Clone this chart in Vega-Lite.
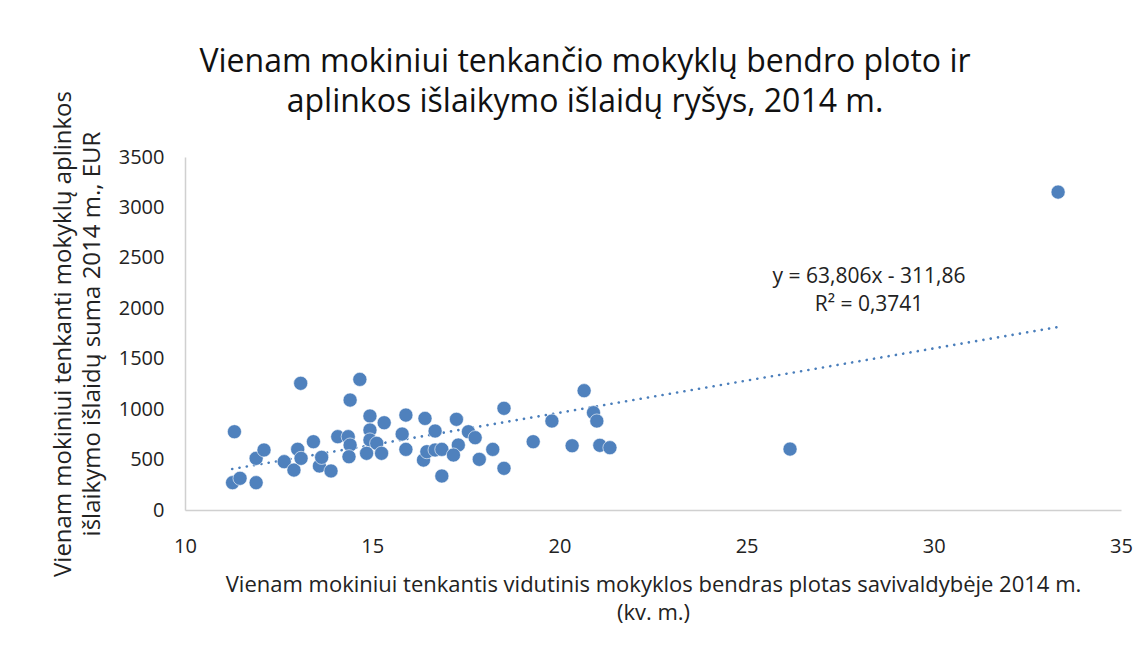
{
  "$schema": "https://vega.github.io/schema/vega-lite/v6.json",
  "width": 936,
  "height": 353,
  "autosize": "none",
  "padding": {"left": 185, "top": 157, "right": 26, "bottom": 145},
  "background": "white",
  "config": {
    "font": "Open Sans",
    "view": {"stroke": null},
    "axis": {"grid": false, "ticks": false, "domainColor": "#d0d0d0", "domainWidth": 1.5, "labelColor": "#222", "titleColor": "#222", "labelFont": "Open Sans", "titleFont": "Open Sans", "titleFontWeight": "normal", "labelFlush": false}
  },
  "title": {
    "text": ["Vienam mokiniui tenkančio mokyklų bendro ploto ir", "aplinkos išlaikymo išlaidų ryšys, 2014 m."],
    "fontSize": 32,
    "fontWeight": "normal",
    "font": "Open Sans",
    "color": "#111",
    "anchor": "middle",
    "frame": "group",
    "dx": -68,
    "offset": -28,
    "lineHeight": 40
  },
  "datasets": {
    "points": [
      {"x": 11.32, "y": 776}, {"x": 13.09, "y": 1256}, {"x": 14.67, "y": 1295}, {"x": 14.41, "y": 1090},
      {"x": 11.27, "y": 271}, {"x": 11.47, "y": 314}, {"x": 11.90, "y": 271}, {"x": 11.90, "y": 512},
      {"x": 12.11, "y": 595}, {"x": 12.65, "y": 479}, {"x": 12.91, "y": 396}, {"x": 13.01, "y": 602},
      {"x": 13.10, "y": 512}, {"x": 13.43, "y": 677}, {"x": 13.59, "y": 436}, {"x": 13.65, "y": 522},
      {"x": 13.90, "y": 387}, {"x": 14.08, "y": 727}, {"x": 14.36, "y": 727}, {"x": 14.41, "y": 644},
      {"x": 14.38, "y": 528}, {"x": 14.94, "y": 932}, {"x": 15.32, "y": 865}, {"x": 14.94, "y": 793},
      {"x": 14.94, "y": 694}, {"x": 15.12, "y": 661}, {"x": 14.85, "y": 562}, {"x": 15.25, "y": 562},
      {"x": 15.90, "y": 941}, {"x": 15.80, "y": 753}, {"x": 15.90, "y": 601}, {"x": 16.41, "y": 908},
      {"x": 16.37, "y": 495}, {"x": 16.68, "y": 783}, {"x": 16.46, "y": 578}, {"x": 16.68, "y": 595},
      {"x": 16.86, "y": 601}, {"x": 16.86, "y": 337}, {"x": 17.25, "y": 899}, {"x": 17.30, "y": 644},
      {"x": 17.17, "y": 545}, {"x": 17.57, "y": 776}, {"x": 17.75, "y": 717}, {"x": 17.86, "y": 502},
      {"x": 18.22, "y": 601}, {"x": 18.52, "y": 1008}, {"x": 18.52, "y": 413}, {"x": 19.30, "y": 677},
      {"x": 19.80, "y": 882}, {"x": 20.34, "y": 637}, {"x": 20.66, "y": 1183}, {"x": 20.91, "y": 965},
      {"x": 21.00, "y": 882}, {"x": 21.08, "y": 641}, {"x": 21.35, "y": 618}, {"x": 26.16, "y": 604},
      {"x": 33.32, "y": 3152}
    ],
    "trend": [
      {"x": 11.26, "y": 406.6},
      {"x": 33.32, "y": 1814.1}
    ],
    "equation": [
      {"label": "y = 63,806x - 311,86"}
    ]
  },
  "layer": [
    {
      "data": {"name": "trend"},
      "mark": {"type": "line", "color": "#4A7EBB", "strokeWidth": 2.6, "strokeCap": "round", "strokeDash": [0.1, 7.3]},
      "encoding": {
        "x": {"field": "x", "type": "quantitative"},
        "y": {"field": "y", "type": "quantitative"}
      }
    },
    {
      "data": {"name": "points"},
      "mark": {"type": "point", "shape": "circle", "filled": true, "size": 200, "color": "#4F81BD", "opacity": 1, "stroke": "white", "strokeWidth": 0.6},
      "encoding": {
        "x": {
          "field": "x", "type": "quantitative",
          "scale": {"domain": [10, 35], "nice": false, "zero": false},
          "axis": {
            "values": [10, 15, 20, 25, 30, 35],
            "labelFontSize": 20, "labelPadding": 26,
            "title": ["Vienam mokiniui tenkantis vidutinis mokyklos bendras plotas savivaldybėje  2014 m.", "(kv. m.)"],
            "titleFontSize": 22, "titlePadding": 18, "titleLineHeight": 28
          }
        },
        "y": {
          "field": "y", "type": "quantitative",
          "scale": {"domain": [0, 3500], "nice": false},
          "axis": {
            "values": [0, 500, 1000, 1500, 2000, 2500, 3000, 3500],
            "format": "d",
            "labelFontSize": 20, "labelPadding": 21,
            "title": ["Vienam mokiniui tenkanti mokyklų aplinkos", "išlaikymo išlaidų suma 2014 m., EUR"],
            "titleFontSize": 24, "titlePadding": 14, "titleLineHeight": 29
          }
        }
      }
    },
    {
      "data": {"name": "equation"},
      "mark": {"type": "text", "text": ["y = 63,806x - 311,86", "R² = 0,3741"], "fontSize": 21, "font": "Open Sans", "color": "#222", "align": "center", "baseline": "middle", "lineHeight": 28},
      "encoding": {
        "x": {"datum": 28.27},
        "y": {"datum": 2309}
      }
    }
  ]
}
